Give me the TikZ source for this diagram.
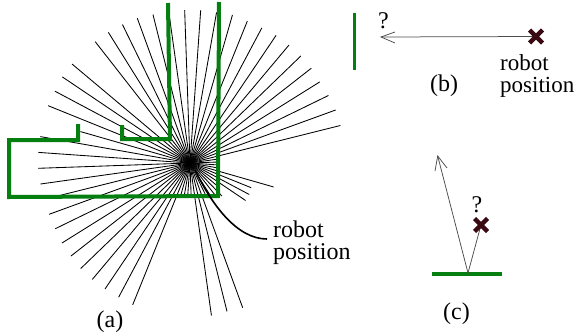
\documentclass[tikz,border=0pt]{standalone}
\usepackage{fontspec}
\setmainfont{Liberation Serif}
\definecolor{wallgreen}{HTML}{057F0F}
\definecolor{crossred}{HTML}{3A0A12}
\tikzset{
  x=1pt,y=-1pt,
  ray/.style={black,line width=0.85pt},
  wall/.style={wallgreen,line width=4pt,line join=miter},
  beam/.style={black!70,line width=0.75pt},
  crossmark/.style={crossred,line width=4.4pt},
  lbl/.style={font=\fontsize{24}{22}\selectfont,inner sep=0pt,anchor=base west,align=left},
  lblsmall/.style={lbl,font=\fontsize{23}{21.5}\selectfont},
  caption/.style={font=\fontsize{24}{22}\selectfont,inner sep=0pt,anchor=base},
}
\begin{document}
\begin{tikzpicture}
\useasboundingbox (0,0) rectangle (576,335);
\coordinate (c) at (190,163);
% rays: angle/length
\foreach \a/\l in {92/153,86/153,80/153,74/154,68/153,62/153,56/154,50/154,44/154,38/154,32/153,26/154,20/155,14/155,
  8/28,2/27,-4/27,-10/28,-16/87,-22/66,-28/67,-34/67,-40/37,-46/46,-52/42,-58/39,-64/37,-70/154,-76/153,-82/154,
  -88/33,-94/33,-100/34,-106/34,248/153,242/152,236/152,230/152,224/152,218/151,212/151,206/150,200/150,194/136,
  188/151,182/152,176/152,170/152,164/114,158/153,152/153,146/154,140/154,134/33,128/154,122/154,116/154,110/154,104/153,98/154}
  \draw[ray] (c) -- ++({\l*cos(\a)},{-\l*sin(\a)});
% walls
\coordinate (w1) at (168,3);   \coordinate (w2) at (170,139);
\coordinate (w3) at (122,139); \coordinate (w4) at (122,125);
\coordinate (w5) at (78,124);  \coordinate (w6) at (78,140);
\coordinate (w7) at (9,140);   \coordinate (w8) at (9,197);
\coordinate (w9) at (218,196); \coordinate (w10) at (219,2);
\draw[wall] (w1) -- (w2) -- (w3) -- (w4);
\draw[wall] (w5) -- (w6) -- (w7) -- (w8) -- (w9) -- (w10);
% robot-position pointer
\coordinate (p0) at (195,170);
\coordinate (p1) at (267,239);
\draw[black,line width=1.6pt] (p0) .. controls (212,205) and (237,239) .. (p1);
\node[lbl] (lblA) at (273,259) {robot\\position};
\node[caption] (capA) at (110,327) {(a)};
% (b)
\coordinate (bw1) at (354.5,13); \coordinate (bw2) at (354.5,70);
\draw[wall,line width=3.4pt] (bw1) -- (bw2);
\coordinate (br) at (536,36.5);
\coordinate (bt) at (381,37);
\draw[beam] (br) -- (bt);
\draw[beam] (395,32) -- (bt) -- (395,43);
\draw[crossmark] (529.5,30) -- (542.5,43) (529.5,43) -- (542.5,30);
\node[lblsmall] (lblB) at (500,92) {robot\\position};
\node[caption] (capB) at (444,91) {(b)};
\node[caption] (qB) at (383.5,28) {?};
% (c)
\coordinate (cb) at (468,273);
\coordinate (ct) at (437.7,156);
\coordinate (cr) at (481,225);
\draw[wall] (432,274) -- (502,274);
\draw[beam] (cr) -- (cb) -- (ct);
\draw[beam] (435,171) -- (ct) -- (447,168);
\draw[crossmark] (474.5,218.5) -- (487.5,231.5) (474.5,231.5) -- (487.5,218.5);
\node[caption] (qC) at (477,212) {?};
\node[caption] (capC) at (456.5,319) {(c)};
\end{tikzpicture}
\end{document}
